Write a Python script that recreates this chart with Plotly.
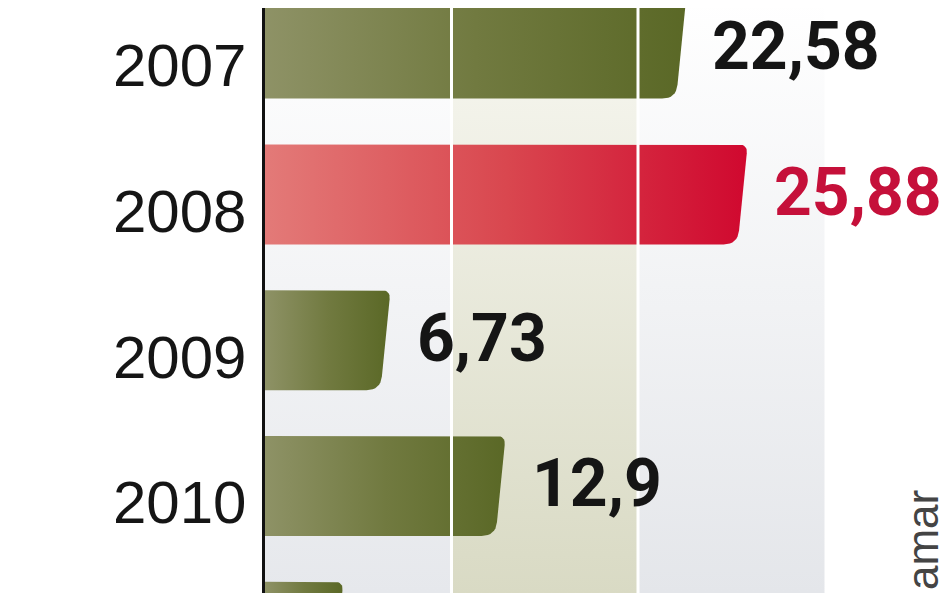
import plotly.graph_objects as go

# data
years = ["2007", "2008", "2009", "2010", "2011"]
values = [22.58, 25.88, 6.73, 12.9, 4.2]
value_labels = ["22,58", "25,88", "6,73", "12,9", "4,2"]
highlight_year = "2008"
grid_values = [10, 20]
band_edges = [0, 10, 20, 30]
source_text = "amar"

# the page body adds 8px on the left/top, so the figure is 8px smaller
W, H = 940, 585
LEFT = 257
SX = 18.65          # px per unit on x
SY = 145.8          # px per row
Y_TOP, Y_BOTTOM = -0.2785, 3.734
X_MAX = (W - LEFT) / SX

OLIVE = [[0, "#8e9266"], [0.5, "#717a40"], [1, "#5a6826"]]
RED = [[0, "#e37a78"], [0.5, "#d9474f"], [1, "#d0082f"]]


def bezier(a, p, b, steps=8):
    pts = []
    for k in range(steps + 1):
        t = k / steps
        pts.append(((1 - t) ** 2 * a[0] + 2 * (1 - t) * t * p[0] + t ** 2 * b[0],
                    (1 - t) ** 2 * a[1] + 2 * (1 - t) * t * p[1] + t ** 2 * b[1]))
    return pts


def bar_outline(v, row, half=50, slant=10, r_top=9, r_bot=14):
    """ Bar with a slanted, rounded right end (built in px, returned in data units) """
    tr = (v * SX, -half)
    br = (v * SX - slant, half)
    dx, dy = br[0] - tr[0], br[1] - tr[1]
    ln = (dx * dx + dy * dy) ** 0.5
    ux, uy = dx / ln, dy / ln
    pts = [(0, -half)]
    pts += bezier((tr[0] - r_top, -half), tr, (tr[0] + ux * r_top, tr[1] + uy * r_top))
    pts += bezier((br[0] - ux * r_bot, br[1] - uy * r_bot), br, (br[0] - r_bot, half))
    pts += [(0, half), (0, -half)]
    return [p[0] / SX for p in pts], [row + p[1] / SY for p in pts]


fig = go.Figure()

# background bands (vertical gradients)
band_colors = [
    [[0, "#ffffff"], [1, "#e6e8ec"]],
    [[0, "#f8f8f2"], [1, "#d9dac4"]],
    [[0, "#ffffff"], [1, "#e4e6ea"]],
]
for x0, x1, cs in zip(band_edges[:-1], band_edges[1:], band_colors):
    fig.add_trace(go.Scatter(x=[x0, x1, x1, x0, x0],
                             y=[Y_TOP, Y_TOP, Y_BOTTOM, Y_BOTTOM, Y_TOP],
                             mode="lines", fill="toself", line=dict(width=0),
                             fillgradient=dict(type="vertical", colorscale=cs,
                                               start=Y_TOP - 0.06, stop=Y_BOTTOM),
                             hoverinfo="skip", showlegend=False))

# bars
for row, (year, v) in enumerate(zip(years, values)):
    xs, ys = bar_outline(v, row)
    cs = RED if year == highlight_year else OLIVE
    fig.add_trace(go.Scatter(x=xs, y=ys, mode="lines", fill="toself",
                             line=dict(width=0),
                             fillgradient=dict(type="horizontal", colorscale=cs,
                                               start=0, stop=v),
                             hoverinfo="skip", showlegend=False))

annotations = []
for row, (year, v, lab) in enumerate(zip(years, values, value_labels)):
    annotations.append(dict(x=v, y=row, xref="x", yref="y", text=lab,
                            showarrow=False, xanchor="left", yanchor="middle",
                            xshift=24, yshift=2,
                            font=dict(family="Roboto", size=66, weight="bold",
                                      color="#c5103a" if year == highlight_year else "#151515")))
    annotations.append(dict(x=0, y=row, xref="x", yref="y", text=year,
                            showarrow=False, xanchor="right", yanchor="middle",
                            xshift=-17, yshift=-17,
                            font=dict(family="Liberation Sans", size=60, color="#151515")))

annotations.append(dict(x=(922 - 8 - LEFT) / (W - LEFT), y=(H - (488 - 8)) / H,
                        xref="paper", yref="paper",
                        text=source_text, showarrow=False, textangle=-90,
                        xanchor="center", yanchor="top",
                        font=dict(family="Liberation Sans", size=44, color="#444444")))

shapes = [dict(type="line", xref="x", yref="paper", x0=g, x1=g, y0=0, y1=1,
               line=dict(color="white", width=3), layer="above")
          for g in grid_values]

fig.update_layout(width=W, height=H,
                  margin=dict(l=LEFT, r=0, t=0, b=0),
                  paper_bgcolor="white", plot_bgcolor="white",
                  xaxis=dict(range=[0, X_MAX], visible=False, fixedrange=True),
                  yaxis=dict(range=[Y_BOTTOM, Y_TOP], showgrid=False, zeroline=False,
                             showticklabels=False, ticks="",
                             showline=True, linecolor="#111111", linewidth=3),
                  annotations=annotations, shapes=shapes)

fig.write_html("out.html")
